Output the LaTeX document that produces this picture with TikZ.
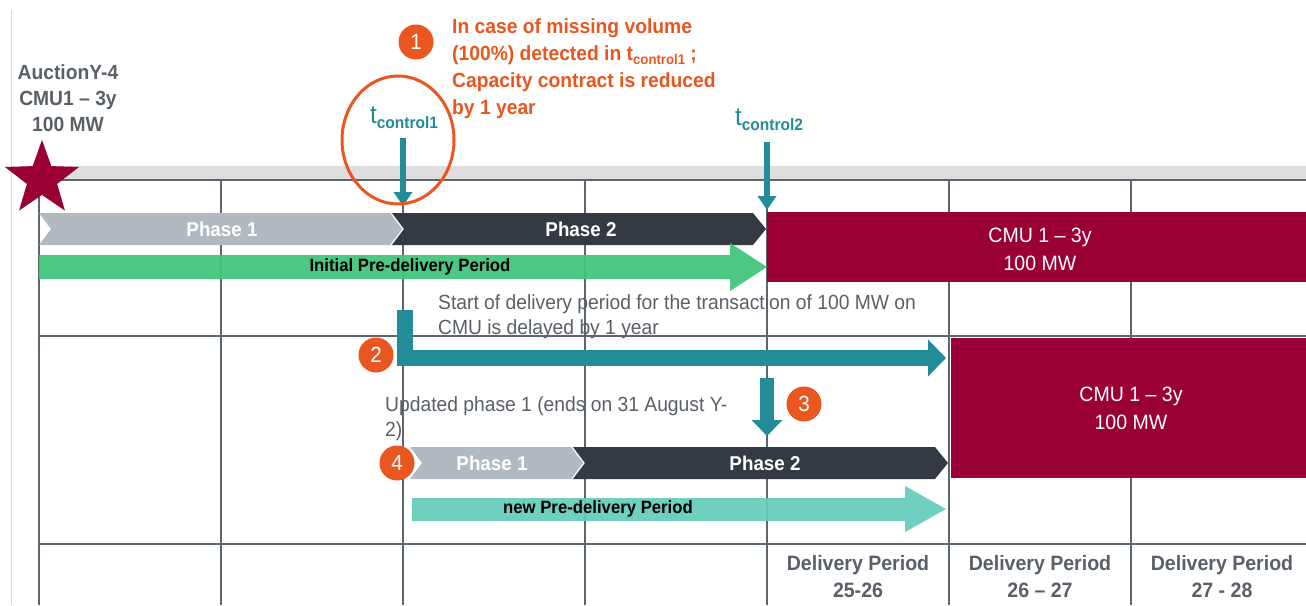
\documentclass[tikz,border=0pt]{standalone}
\usepackage{fontspec}
\setmainfont{Liberation Sans}[FakeStretch=0.94]
\usetikzlibrary{arrows.meta,shapes.geometric}
\definecolor{txtgray}{HTML}{5A6067}
\definecolor{orng}{HTML}{E9561F}
\definecolor{tealc}{HTML}{248B98}
\definecolor{crims}{HTML}{9A0036}
\definecolor{ph1}{HTML}{B1BAC0}
\definecolor{ph2}{HTML}{343A41}
\definecolor{grn}{HTML}{40C47B}
\definecolor{mint}{HTML}{66CDBB}
\definecolor{gridc}{HTML}{5D666E}
\definecolor{bandc}{HTML}{DEDEDE}
\tikzset{
  gridline/.style={draw=gridc, line width=1.3pt},
  phtxt/.style={text=white, font=\bfseries\fontsize{20}{22}\selectfont, inner sep=0},
  badge/.style={circle, fill=orng, text=white, minimum size=35pt, inner sep=0, font=\fontsize{22}{24}\selectfont},
  graytxt/.style={text=txtgray, align=left, anchor=north west, inner sep=0, font=\fontsize{20.5}{25}\selectfont},
  boldgray/.style={text=txtgray, align=center, inner sep=0, font=\bfseries\fontsize{20.8}{27}\selectfont},
  cmutxt/.style={text=white, align=center, inner sep=0, font=\fontsize{20.8}{28}\selectfont},
  tlabel/.style={text=tealc, inner sep=0},
  tarrow/.style={draw=tealc, line width=6pt, -{Triangle[length=14pt,width=18pt]}},
}
\begin{document}
\begin{tikzpicture}[x=1pt,y=-1pt]
\useasboundingbox (0,0) rectangle (1306,605);
\fill[white] (0,0) rectangle (1306,605);
% faint left line
\draw[black!15, line width=0.8pt] (11,10) -- (11,605);
% band and grid
\fill[bandc] (22,166) rectangle (1306,180);
\foreach \x in {39,221,403,585,767,949,1131} \draw[gridline] (\x,180) -- (\x,605);
\foreach \y in {180,336,544} \draw[gridline] (39,\y) -- (1306,\y);
% star
\node[star, star points=5, star point ratio=2.45, fill=crims, minimum size=78pt, inner sep=0] (star) at (42,179) {};
\node[boldgray, font=\bfseries\fontsize{20.5}{26}\selectfont] (auc) at (68,98) {AuctionY-4\\CMU1 -- 3y\\100 MW};
% row 1 phases
\fill[ph1] (39,213) -- (391,213) -- (403,229) -- (391,245) -- (39,245) -- (51,229) -- cycle;
\fill[ph2] (391,213) -- (753,213) -- (766,229) -- (753,245) -- (391,245) -- (403,229) -- cycle;
\draw[white, line width=1.2pt] (391,213) -- (403,229) -- (391,245);
\node[phtxt] (p1a) at (222,229) {Phase 1};
\node[phtxt] (p2a) at (581,229) {Phase 2};
% initial pre-delivery arrow
\fill[grn, opacity=0.93] (39,255) -- (730,255) -- (730,243) -- (767,267) -- (730,291) -- (730,279) -- (39,279) -- cycle;
\node[inner sep=0, font=\bfseries\fontsize{17.8}{19}\selectfont] (ipd) at (410,267) {Initial Pre-delivery Period};
% CMU box 1
\fill[crims] (767,212) rectangle (1306,282);
\node[cmutxt] (cmu1) at (1040,249) {CMU 1 -- 3y\\100 MW};
% t control labels and arrows
\node[tlabel] (tc1) at (404,118) {\fontsize{26}{28}\selectfont t\raisebox{-5pt}{\bfseries\fontsize{16.5}{18}\selectfont control1}};
\node[tlabel] (tc2) at (769,120) {\fontsize{26}{28}\selectfont t\raisebox{-5pt}{\bfseries\fontsize{16.5}{18}\selectfont control2}};
\coordinate (tc1s) at (403,138);
\coordinate (tc1e) at (403,206);
\coordinate (tc2s) at (767,142);
\coordinate (tc2e) at (767,210);
\draw[tarrow] (tc1s) -- (tc1e);
\draw[tarrow] (tc2s) -- (tc2e);
% orange ellipse
\node[ellipse, draw=orng, line width=3pt, minimum width=112pt, minimum height=128pt, inner sep=0] (ell) at (398,140) {};
% badge 1 and note
\node[badge] (b1) at (416,42) {1};
\node[anchor=north west, inner sep=0, align=left, text=orng, font=\bfseries\fontsize{20.5}{27}\selectfont] (note1) at (452,18) {In case of missing volume\\(100\%) detected in t\raisebox{-4pt}{\fontsize{14}{15}\selectfont control1} ;\\Capacity contract is reduced\\by 1 year};
% start of delivery text
\node[graytxt] (sd) at (438,294) {Start of delivery period for the transaction of 100 MW on\\CMU is delayed by 1 year};
% elbow arrow 2
\coordinate (e2s) at (405,310);
\coordinate (e2e) at (946,358);
\draw[draw=tealc, line width=16pt, line join=miter, -{Triangle[length=18pt,width=36pt]}] (e2s) |- (e2e);
\node[badge] (b2) at (376,355) {2};
% CMU box 2
\fill[crims] (951,338) rectangle (1306,478);
\node[cmutxt] (cmu2) at (1131,408) {CMU 1 -- 3y\\100 MW};
% arrow 3
\coordinate (a3s) at (767,378);
\coordinate (a3e) at (767,436);
\draw[draw=tealc, line width=14pt, -{Triangle[length=16pt,width=30pt]}] (a3s) -- (a3e);
\node[badge] (b3) at (804,404) {3};
% updated phase text
\node[graytxt] (up) at (385,396) {Updated phase 1 (ends on 31 August Y-\\2)};
% row 2 phases
\fill[ph1] (410,447) -- (572,447) -- (584,463) -- (572,479) -- (410,479) -- (422,463) -- cycle;
\fill[ph2] (572,447) -- (935,447) -- (948,463) -- (935,479) -- (572,479) -- (584,463) -- cycle;
\draw[white, line width=1.2pt] (572,447) -- (584,463) -- (572,479);
\node[phtxt] (p1b) at (492,463) {Phase 1};
\node[phtxt] (p2b) at (765,463) {Phase 2};
\node[badge] (b4) at (397,463) {4};
% new pre-delivery arrow
\fill[mint, opacity=0.93] (412,498) -- (905,498) -- (905,486) -- (946,509) -- (905,532) -- (905,521) -- (412,521) -- cycle;
\node[inner sep=0, font=\bfseries\fontsize{17.8}{19}\selectfont] (npd) at (598,509) {new Pre-delivery Period};
% delivery periods
\node[boldgray] (d1) at (858,577) {Delivery Period\\25-26};
\node[boldgray] (d2) at (1040,577) {Delivery Period\\26 -- 27};
\node[boldgray] (d3) at (1222,577) {Delivery Period\\27 - 28};
\end{tikzpicture}
\end{document}
